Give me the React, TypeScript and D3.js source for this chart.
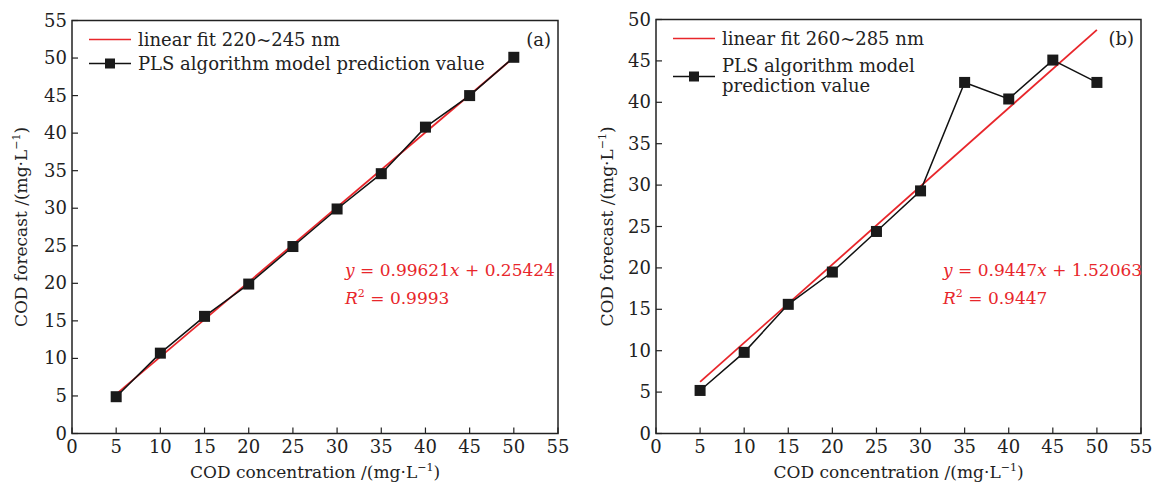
import React from 'react'
import * as d3 from 'd3'

// concentrations (x) shared by both panels
const concentrations = [5, 10, 15, 20, 25, 30, 35, 40, 45, 50]
// PLS predictions
const predA = [4.9, 10.7, 15.6, 19.9, 24.9, 29.9, 34.6, 40.8, 45.0, 50.1]
const predB = [5.2, 9.8, 15.6, 19.5, 24.4, 29.3, 42.4, 40.4, 45.1, 42.4]

const fitA = { slope: 0.99621, intercept: 0.25424 }
const fitB = { slope: 0.9447, intercept: 1.52063 }

const xTicks = [0, 5, 10, 15, 20, 25, 30, 35, 40, 45, 50, 55]
const yTicksA = [0, 5, 10, 15, 20, 25, 30, 35, 40, 45, 50, 55]
const yTicksB = [0, 5, 10, 15, 20, 25, 30, 35, 40, 45, 50]

const RED = '#e8262b'
const FONT = 'DejaVu Serif, serif'
const FS = 17

type PanelProps = {
  left: number
  right: number
  top: number
  bottom: number
  yMax: number
  yTicks: number[]
  preds: number[]
  fit: { slope: number; intercept: number }
  fitLabel: string
  predLabel: string[]
  tag: string
  eq: string[]
  r2: string
  eqX: number
  yLabelX: number
}

function Panel(p: PanelProps) {
  const x = d3.scaleLinear().domain([0, 55]).range([p.left, p.right])
  const y = d3.scaleLinear().domain([0, p.yMax]).range([p.bottom, p.top])
  const pts = concentrations.map((c, i) => [c, p.preds[i]] as [number, number])
  const line = d3.line<[number, number]>().x(d => x(d[0])).y(d => y(d[1]))
  const fitPts: [number, number][] = [5, 50].map(c => [c, p.fit.slope * c + p.fit.intercept])
  const lx = p.left + 17
  const midX = (p.left + p.right) / 2
  const midY = (p.top + p.bottom) / 2
  const extra = (p.predLabel.length - 1) * 14

  return (
    <g fontFamily={FONT} fontSize={FS} fill="#222">
      <rect x={p.left} y={p.top} width={p.right - p.left} height={p.bottom - p.top} fill="none" stroke="#222" strokeWidth={1.5} />
      {xTicks.map(t => (
        <g key={'x' + t}>
          <line x1={x(t)} x2={x(t)} y1={p.bottom} y2={p.bottom - 6} stroke="#222" strokeWidth={1.2} />
          <text x={x(t)} y={p.bottom + 19} textAnchor="middle" fontSize={18}>{t}</text>
        </g>
      ))}
      {p.yTicks.map(t => (
        <g key={'y' + t}>
          <line x1={p.left} x2={p.left + 6} y1={y(t)} y2={y(t)} stroke="#222" strokeWidth={1.2} />
          <text x={p.left - 5} y={y(t) + 6} textAnchor="end" fontSize={18}>{t}</text>
        </g>
      ))}
      <text x={midX} y={478} textAnchor="middle">
        COD concentration /(mg·L<tspan dy={-7} fontSize={11}>−1</tspan><tspan dy={7}>)</tspan>
      </text>
      <text transform={`translate(${p.yLabelX},${midY}) rotate(-90)`} textAnchor="middle">
        COD forecast /(mg·L<tspan dy={-7} fontSize={11}>−1</tspan><tspan dy={7}>)</tspan>
      </text>

      <path d={line(fitPts) || ''} fill="none" stroke={RED} strokeWidth={1.8} />
      <path d={line(pts) || ''} fill="none" stroke="#111" strokeWidth={1.5} />
      {pts.map((d, i) => (
        <rect key={i} x={x(d[0]) - 5.5} y={y(d[1]) - 5.5} width={11} height={11} fill="#1a1a1a" />
      ))}

      {/* legend */}
      <line x1={lx} x2={lx + 42} y1={p.top + 19} y2={p.top + 19} stroke={RED} strokeWidth={1.6} />
      <text x={lx + 49} y={p.top + 25} fontSize={18}>{p.fitLabel}</text>
      <line x1={lx} x2={lx + 42} y1={p.top + 43 + extra} y2={p.top + 43 + extra} stroke="#111" strokeWidth={1.3} />
      <rect x={lx + 16} y={p.top + 38 + extra} width={10} height={10} fill="#1a1a1a" />
      {p.predLabel.map((s, i) => (
        <text key={i} x={lx + 49} y={p.top + 49 + i * 20 + (p.predLabel.length - 1) * 3} fontSize={18}>{s}</text>
      ))}
      <text x={p.right - 7} y={p.top + 25} textAnchor="end" fontSize={18}>{p.tag}</text>

      {/* fit equation */}
      <text x={p.eqX} y={276} fill={RED}>
        <tspan fontStyle="italic">y</tspan> = {p.eq[0]}<tspan fontStyle="italic">x</tspan> + {p.eq[1]}
      </text>
      <text x={p.eqX} y={304} fill={RED}>
        <tspan fontStyle="italic">R</tspan><tspan dy={-7} fontSize={11}>2</tspan><tspan dy={7}> = {p.r2}</tspan>
      </text>
    </g>
  )
}

export default function App() {
  return (
    <svg width={1154} height={485} style={{ position: 'absolute', left: 0, top: 0, background: '#fff' }}>
      <Panel left={72} right={558} top={20.5} bottom={433.5} yMax={55} yTicks={yTicksA}
        preds={predA} fit={fitA} fitLabel="linear fit 220~245 nm"
        predLabel={['PLS algorithm model prediction value']} tag="(a)"
        eq={['0.99621', '0.25424']} r2="0.9993" eqX={345} yLabelX={27} />
      <Panel left={656} right={1141} top={19.5} bottom={433.5} yMax={50} yTicks={yTicksB}
        preds={predB} fit={fitB} fitLabel="linear fit 260~285 nm"
        predLabel={['PLS algorithm model', 'prediction value']} tag="(b)"
        eq={['0.9447', '1.52063']} r2="0.9447" eqX={943} yLabelX={613} />
    </svg>
  )
}
